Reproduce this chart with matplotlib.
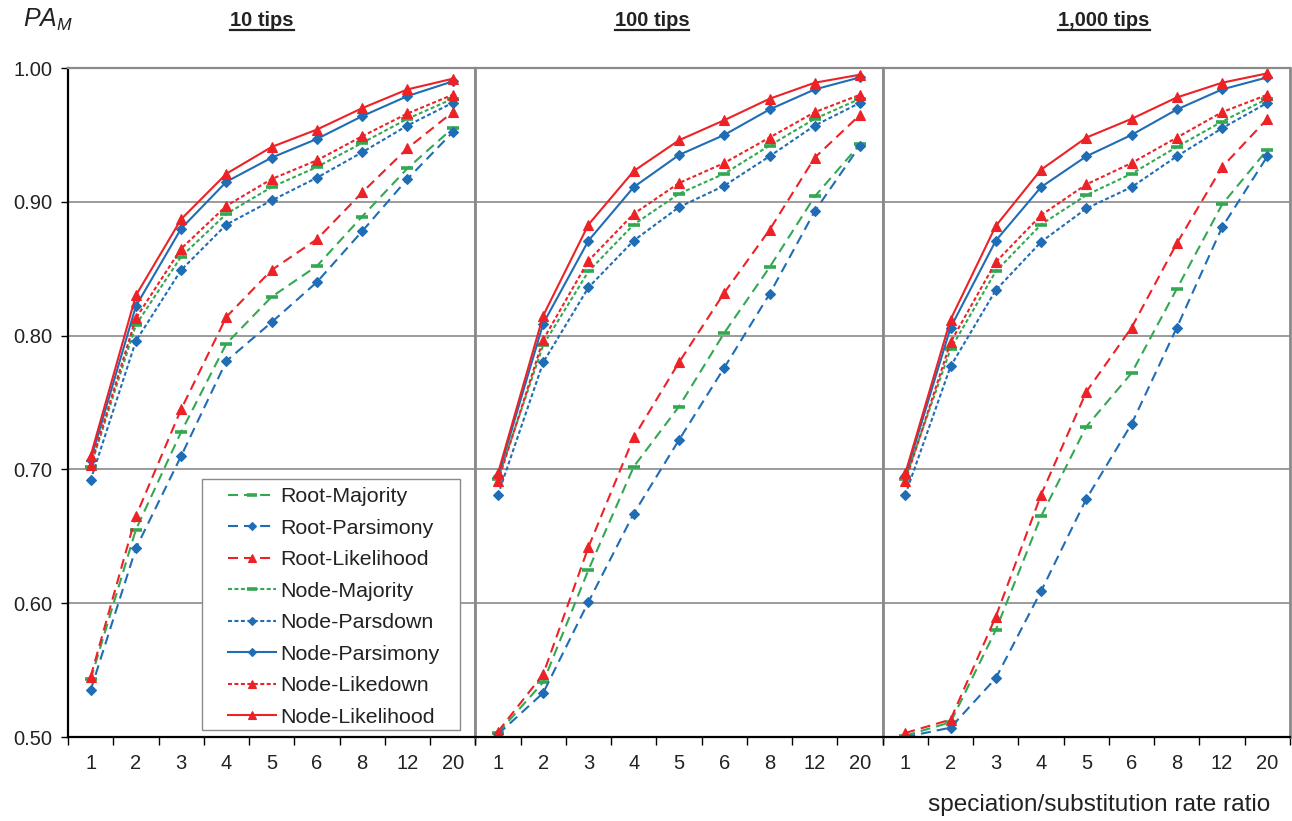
import matplotlib
matplotlib.use("Agg")
import matplotlib.pyplot as plt
from matplotlib.lines import Line2D
from matplotlib.patches import Rectangle

plt.rcParams['font.family'] = ['Liberation Sans', 'DejaVu Sans']
plt.rcParams['mathtext.fontset'] = 'custom'
plt.rcParams['mathtext.it'] = 'Liberation Sans:italic'
plt.rcParams['mathtext.rm'] = 'Liberation Sans'
TXT = '#222222'
plt.rcParams['text.color'] = TXT
plt.rcParams['xtick.labelcolor'] = TXT
plt.rcParams['ytick.labelcolor'] = TXT

# ---------------- data ----------------
categories = ['1', '2', '3', '4', '5', '6', '8', '12', '20']
panel_titles = ['10 tips', '100 tips', '1,000 tips']
yticks = [0.50, 0.60, 0.70, 0.80, 0.90, 1.00]

# 10 tips
root_majority_10 = [0.543, 0.655, 0.728, 0.794, 0.829, 0.852, 0.889, 0.925, 0.955]
root_parsimony_10 = [0.535, 0.641, 0.710, 0.781, 0.810, 0.840, 0.878, 0.917, 0.952]
root_likelihood_10 = [0.545, 0.665, 0.745, 0.814, 0.849, 0.872, 0.907, 0.940, 0.967]
node_majority_10 = [0.702, 0.808, 0.859, 0.891, 0.911, 0.926, 0.944, 0.962, 0.977]
node_parsdown_10 = [0.692, 0.796, 0.849, 0.883, 0.901, 0.918, 0.937, 0.957, 0.974]
node_parsimony_10 = [0.707, 0.822, 0.880, 0.915, 0.933, 0.947, 0.964, 0.979, 0.990]
node_likedown_10 = [0.703, 0.813, 0.865, 0.897, 0.917, 0.931, 0.949, 0.966, 0.980]
node_likelihood_10 = [0.710, 0.830, 0.887, 0.921, 0.941, 0.954, 0.970, 0.984, 0.992]

# 100 tips
root_majority_100 = [0.503, 0.541, 0.625, 0.702, 0.747, 0.802, 0.851, 0.904, 0.943]
root_parsimony_100 = [0.502, 0.533, 0.601, 0.667, 0.722, 0.776, 0.831, 0.893, 0.942]
root_likelihood_100 = [0.504, 0.547, 0.642, 0.724, 0.780, 0.832, 0.879, 0.933, 0.965]
node_majority_100 = [0.693, 0.793, 0.848, 0.883, 0.906, 0.921, 0.942, 0.962, 0.977]
node_parsdown_100 = [0.681, 0.780, 0.836, 0.871, 0.896, 0.912, 0.934, 0.957, 0.974]
node_parsimony_100 = [0.695, 0.809, 0.871, 0.911, 0.935, 0.950, 0.969, 0.984, 0.993]
node_likedown_100 = [0.691, 0.797, 0.856, 0.891, 0.914, 0.929, 0.948, 0.967, 0.980]
node_likelihood_100 = [0.697, 0.815, 0.883, 0.923, 0.946, 0.961, 0.977, 0.989, 0.995]

# 1,000 tips
root_majority_1000 = [0.501, 0.511, 0.580, 0.665, 0.732, 0.772, 0.835, 0.898, 0.939]
root_parsimony_1000 = [0.500, 0.507, 0.544, 0.609, 0.678, 0.734, 0.806, 0.881, 0.934]
root_likelihood_1000 = [0.503, 0.513, 0.590, 0.681, 0.758, 0.806, 0.869, 0.926, 0.962]
node_majority_1000 = [0.693, 0.790, 0.848, 0.883, 0.905, 0.921, 0.941, 0.960, 0.977]
node_parsdown_1000 = [0.681, 0.777, 0.834, 0.870, 0.895, 0.911, 0.934, 0.955, 0.974]
node_parsimony_1000 = [0.695, 0.806, 0.871, 0.911, 0.934, 0.950, 0.969, 0.984, 0.993]
node_likedown_1000 = [0.691, 0.795, 0.855, 0.890, 0.913, 0.929, 0.948, 0.967, 0.980]
node_likelihood_1000 = [0.697, 0.812, 0.882, 0.924, 0.948, 0.962, 0.978, 0.989, 0.996]

series_names = ['Root-Majority', 'Root-Parsimony', 'Root-Likelihood', 'Node-Majority',
                'Node-Parsdown', 'Node-Parsimony', 'Node-Likedown', 'Node-Likelihood']

panels = [
    [root_majority_10, root_parsimony_10, root_likelihood_10, node_majority_10,
     node_parsdown_10, node_parsimony_10, node_likedown_10, node_likelihood_10],
    [root_majority_100, root_parsimony_100, root_likelihood_100, node_majority_100,
     node_parsdown_100, node_parsimony_100, node_likedown_100, node_likelihood_100],
    [root_majority_1000, root_parsimony_1000, root_likelihood_1000, node_majority_1000,
     node_parsdown_1000, node_parsimony_1000, node_likedown_1000, node_likelihood_1000],
]

# ---------------- styles ----------------
GREEN = '#33a852'
BLUE = '#1f6db5'
RED = '#ec2227'
LONG = (0, (4.8, 2.9))
SHORT = (0, (1.9, 1.2))
styles = [
    dict(color=GREEN, ls=LONG, marker='_', ms=9, mew=2.6),
    dict(color=BLUE, ls=LONG, marker='D', ms=5, mew=0.8),
    dict(color=RED, ls=LONG, marker='^', ms=7.5, mew=0.8),
    dict(color=GREEN, ls=SHORT, marker='_', ms=9, mew=2.6),
    dict(color=BLUE, ls=SHORT, marker='D', ms=5, mew=0.8),
    dict(color=BLUE, ls='-', marker='D', ms=5, mew=0.8),
    dict(color=RED, ls=SHORT, marker='^', ms=7.5, mew=0.8),
    dict(color=RED, ls='-', marker='^', ms=7.5, mew=0.8),
]

W, H = 1292, 821
fig = plt.figure(figsize=(W / 100, H / 100), dpi=100)
AX_L, AX_R, AX_T, AX_B = 68, 1290, 68, 737
gs = fig.add_gridspec(1, 3, left=AX_L / W, right=AX_R / W, bottom=1 - AX_B / H,
                      top=1 - AX_T / H, wspace=0)
axes = [fig.add_subplot(gs[0, i]) for i in range(3)]

FS = 14.5
GRAY = '#8a8a8a'
xs = list(range(len(categories)))
for i, ax in enumerate(axes):
    for vals, st in zip(panels[i], styles):
        ax.plot(xs, vals, color=st['color'], linestyle=st['ls'], lw=1.5,
                marker=st['marker'], markersize=st['ms'], markeredgewidth=st['mew'],
                markerfacecolor=st['color'], markeredgecolor=st['color'])
    ax.set_xlim(-0.5, len(categories) - 0.5)
    ax.set_ylim(0.5, 1.0)
    ax.set_yticks(yticks)
    ax.yaxis.grid(True, color=GRAY, lw=1.2)
    ax.set_axisbelow(True)
    ax.set_xticks(xs)
    ax.set_xticklabels(categories, fontsize=FS)
    ax.set_xticks([x - 0.5 for x in range(len(categories) + 1)], minor=True)
    ax.tick_params(axis='x', which='major', length=0, pad=12)
    ax.tick_params(axis='x', which='minor', length=6, width=1, color='black', direction='out')
    ax.spines['bottom'].set_color('black')
    ax.spines['bottom'].set_linewidth(1.6)
    ax.spines['top'].set_color(GRAY)
    ax.spines['top'].set_linewidth(1.6)
    ax.spines['right'].set_color(GRAY)
    ax.spines['right'].set_linewidth(2.0)
    if i == 0:
        ax.set_yticklabels(['%.2f' % v for v in yticks], fontsize=FS)
        ax.tick_params(axis='y', length=5, width=1, pad=6, direction='out')
        ax.spines['left'].set_color('black')
        ax.spines['left'].set_linewidth(1.6)
    else:
        ax.tick_params(axis='y', length=0, labelleft=False)
        ax.spines['left'].set_color(GRAY)
        ax.spines['left'].set_linewidth(2.0)

# ---------------- legend ----------------
ax0 = axes[0]
ax0_w = (AX_R - AX_L) / 3.0
ax0_h = AX_B - AX_T


def ax_frac(px, py):
    return ((px - AX_L) / ax0_w, (AX_B - py) / ax0_h)


# frame box
bx0, by0 = ax_frac(202, 730)
bx1, by1 = ax_frac(460, 479)
ax0.add_patch(Rectangle((bx0, by0), bx1 - bx0, by1 - by0, transform=ax0.transAxes,
                        facecolor='white', edgecolor=GRAY, lw=1.0, zorder=5))

handles = [Line2D([], [], color=st['color'], linestyle=st['ls'], lw=1.5, marker=st['marker'],
                  markersize=st['ms'] * 0.85, markeredgewidth=st['mew'],
                  markerfacecolor=st['color'], markeredgecolor=st['color'])
           for st in styles]
LFS = 15.4
leg = ax0.legend(handles, series_names, loc='upper left', bbox_to_anchor=ax_frac(228, 487),
                 fontsize=LFS, frameon=False, handlelength=2.25, handletextpad=0.2,
                 labelspacing=0.585, borderpad=0.0, borderaxespad=0.0, numpoints=1)
leg.set_zorder(6)

# ---------------- texts ----------------
title_x = [262, 652, 1104]
titles = []
for tx, t in zip(title_x, panel_titles):
    titles.append(fig.text(tx / W, 1 - 20 / H, t, ha='center', va='center',
                           fontsize=FS, fontweight='bold'))

fig.text(23 / W, 1 - 20 / H, r'$PA_M$', ha='left', va='center', fontsize=18)
fig.text(1270 / W, 1 - 805 / H, 'speciation/substitution rate ratio', ha='right',
         va='center', fontsize=17.6)

fig.canvas.draw()
r = fig.canvas.get_renderer()
for t in titles:
    bb = t.get_window_extent(r)
    yline = bb.y0 - 1
    fig.add_artist(Line2D([bb.x0 / W, bb.x1 / W], [yline / H, yline / H],
                          transform=fig.transFigure, color=TXT, lw=1.6))

fig.savefig('out.png', dpi=100)
